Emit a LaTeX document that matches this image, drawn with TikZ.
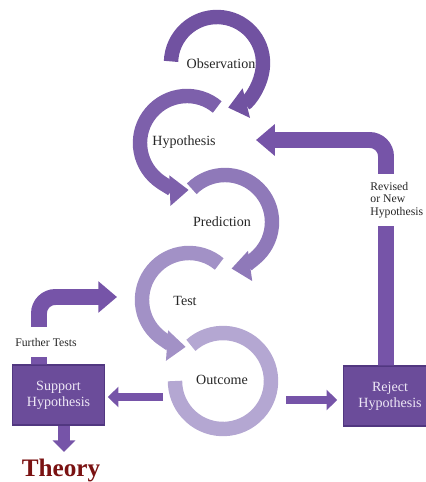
\documentclass[tikz,border=0pt]{standalone}
\usepackage{fontspec}
\setmainfont{Liberation Serif}
\usepackage{xcolor}
\usepackage{tikz}
\usetikzlibrary{arrows.meta}

\definecolor{ringA}{HTML}{7152A1}
\definecolor{ringB}{HTML}{7D60AB}
\definecolor{ringC}{HTML}{8F79B9}
\definecolor{ringD}{HTML}{A291C6}
\definecolor{ringE}{HTML}{B4A7D2}
\definecolor{boxfill}{HTML}{6B4C9A}
\definecolor{boxline}{HTML}{513780}
\definecolor{boxtext}{HTML}{EEE8F6}
\definecolor{flow}{HTML}{7654A8}
\definecolor{theoryred}{HTML}{7A1212}

\begin{document}
\begin{tikzpicture}[x=0.03cm,y=-0.03cm,
		ring/.style={line width=12.3pt,line cap=butt},
		ringtip/.style={-{Triangle[width=25pt,length=16pt]}},
		stage/.style={font=\fontsize{12}{14}\selectfont,text=black!85},
		hypbox/.style={draw=boxline,line width=1.2pt,fill=boxfill,text=boxtext,minimum width=79pt,minimum height=51pt,align=center,font=\fontsize{12}{13.5}\selectfont},
		flowthin/.style={draw=flow,line width=6pt,-{Triangle[width=17pt,length=9pt]}},
		flowdown/.style={draw=flow,line width=10pt,-{Triangle[width=19pt,length=10pt]}},
		flowbig/.style={draw=flow,line width=13.6pt,rounded corners=14pt,-{Triangle[width=26pt,length=16pt]}},
		note/.style={fill=white,font=\fontsize{10}{10.5}\selectfont,text=black!85,align=left,inner xsep=1pt}]
	\useasboundingbox (0,0) rectangle (425,482);

	\draw[ring,ringtip,ringA] (217, 63) ++(182:46) arc[start angle=182, end angle=436, radius=46];
	\draw[ring,ringtip,ringB] (187,143) ++(310:47) arc[start angle=310, end angle= 88, radius=47];
	\draw[ring,ringtip,ringC] (225,222) ++(225:47) arc[start angle=225, end angle=442, radius=47];
	\draw[ring,ringtip,ringD] (189,300) ++(310:47) arc[start angle=310, end angle= 94, radius=47];
	\draw[ring,         ringE] (223,381) ++(228:48) arc[start angle=228, end angle=540, radius=48];

	\node[stage] (obs)  at (221, 64) {Observation};
	\node[stage] (hyp)  at (184,142) {Hypothesis};
	\node[stage] (pred) at (222,222) {Prediction};
	\node[stage] (test) at (185,301) {Test};
	\node[stage] (out)  at (222,380) {Outcome};

	\node[hypbox] (sup) at (58.5,395) {Support\\Hypothesis};
	\node[hypbox] (rej) at ( 390,396) {Reject\\Hypothesis};

	\node[font=\fontsize{21.5}{24}\selectfont\bfseries,text=theoryred] (theory) at (61,470) {Theory};

	\coordinate (outW)  at (163,397);
	\coordinate (outE)  at (286,400);
	\coordinate (thtop) at ( 64,452);
	\coordinate (ftx)   at ( 39,300);
	\coordinate (testin) at (117,297);
	\coordinate (revx)  at (386,300);
	\coordinate (hypin) at (256,140);

	\draw[flowthin,shorten >=2pt] (outW) -- (sup.east |- outW);
	\draw[flowthin,shorten >=5pt] (outE) -- (rej.west |- outE);
	\draw[flowdown] (sup.south -| thtop) -- (thtop);
	\draw[flowbig] (sup.north -| ftx) |- (testin);
	\draw[flowbig] (rej.north -| revx) |- (hypin);

	\node[note,minimum height=25pt]          (ftlab)  at (46,342)  {Further Tests};
	\node[note,minimum height=44pt,anchor=west] (revlab) at (369,200) {Revised\\or New\\Hypothesis};
\end{tikzpicture}
\end{document}
